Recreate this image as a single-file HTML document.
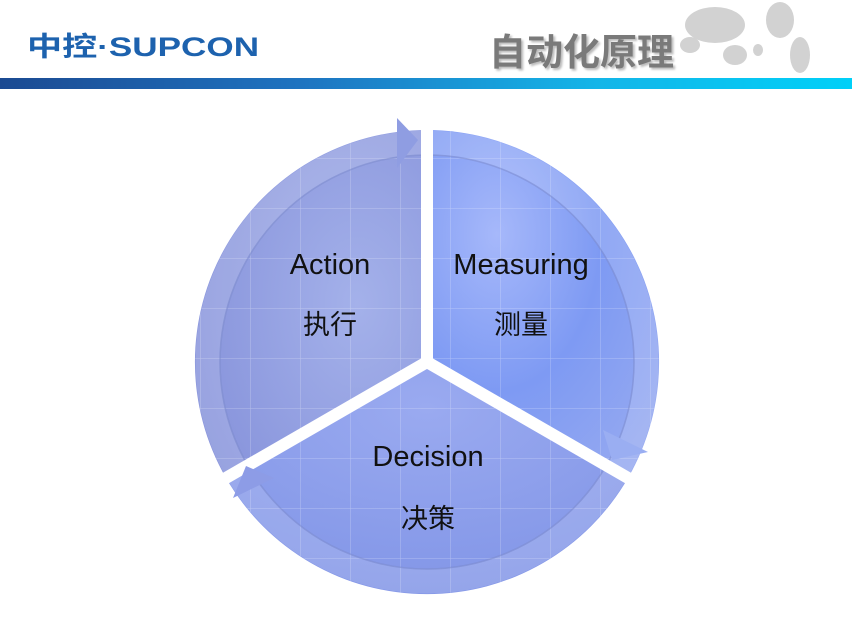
<!DOCTYPE html>
<html><head><meta charset="utf-8"><style>
html,body{margin:0;padding:0;background:#fff;}
body{width:852px;height:621px;position:relative;overflow:hidden;font-family:"Liberation Sans","Noto Sans CJK SC",sans-serif;}
.band{position:absolute;left:0;top:78px;width:852px;height:11px;background:linear-gradient(90deg,#1b4a92 0%,#1e73c0 35%,#14b5e8 70%,#00d0f8 100%);}
.logo{position:absolute;left:27px;top:25px;font-size:27px;font-weight:bold;color:#1d62ae;transform-origin:0 0;transform:scaleX(1.3);font-family:"Liberation Sans","Noto Sans CJK SC",sans-serif;}
.title{position:absolute;left:489px;top:22px;font-size:37px;font-weight:bold;color:#7a7a7a;text-shadow:2px 2px 2px #bbb;font-family:"Noto Sans CJK SC",sans-serif;}
</style></head><body>
<svg width="852" height="621" style="position:absolute;left:0;top:0">
<defs>
<radialGradient id="ga" cx="0.7" cy="0.5" r="0.8"><stop offset="0" stop-color="#a4b1ea"/><stop offset="1" stop-color="#8591da"/></radialGradient>
<radialGradient id="gm" cx="0.3" cy="0.3" r="0.9"><stop offset="0" stop-color="#a6b8fa"/><stop offset="0.5" stop-color="#7e9af3"/><stop offset="1" stop-color="#97aaf0"/></radialGradient>
<radialGradient id="gd" cx="0.5" cy="0.2" r="0.9"><stop offset="0" stop-color="#9aaaf0"/><stop offset="1" stop-color="#7f93e6"/></radialGradient>
<pattern id="grid" width="50" height="50" patternUnits="userSpaceOnUse" x="0" y="8"><path d="M0 0H50M0 0V50" stroke="#fff" stroke-opacity="0.35" stroke-width="1" fill="none"/></pattern>
</defs>
<g fill="#d2d2d2">
<ellipse cx="715" cy="25" rx="30" ry="18"/><ellipse cx="735" cy="55" rx="12" ry="10"/>
<ellipse cx="780" cy="20" rx="14" ry="18"/><ellipse cx="800" cy="55" rx="10" ry="18"/>
<ellipse cx="690" cy="45" rx="10" ry="8"/><ellipse cx="758" cy="50" rx="5" ry="6"/>
</g>
<path d="M427 362 L427 130 A232 232 0 0 0 226 478 Z" fill="url(#ga)"/>
<path d="M427 362 L427 130 A232 232 0 0 1 628 478 Z" fill="url(#gm)"/>
<path d="M427 362 L628 478 A232 232 0 0 1 226 478 Z" fill="url(#gd)"/>
<circle cx="427" cy="362" r="232" fill="url(#grid)"/>
<circle cx="427" cy="362" r="219" fill="none" stroke="#fff" stroke-opacity="0.15" stroke-width="25"/>
<circle cx="427" cy="362" r="207" fill="none" stroke="#6f7fc8" stroke-opacity="0.5" stroke-width="1.5"/>
<g stroke="#fff" stroke-width="12">
<line x1="427" y1="362" x2="427" y2="100"/>
<line x1="427" y1="362" x2="167" y2="512"/>
<line x1="427" y1="362" x2="687" y2="512"/>
</g>
<polygon points="397,118 418,140 397,168" fill="#8f9de2"/>
<polygon points="603,430 648,452 612,460" fill="#9aaef2"/>
<polygon points="233,498 246,466 274,478" fill="#8d9ce6"/>
<g font-family="Liberation Sans,DejaVu Sans,sans-serif" font-size="29" fill="#111" text-anchor="middle">
<text x="330" y="274">Action</text>
<text x="521" y="274">Measuring</text>
<text x="428" y="466">Decision</text>
</g>
<g font-family="Noto Sans CJK SC,sans-serif" font-size="27" fill="#111" text-anchor="middle">
<text x="330" y="334">执行</text>
<text x="521" y="334">测量</text>
<text x="428" y="528">决策</text>
</g>
</svg>
<div class="logo">中控·SUPCON</div>
<div class="title">自动化原理</div>
<div class="band"></div>
</body></html>
